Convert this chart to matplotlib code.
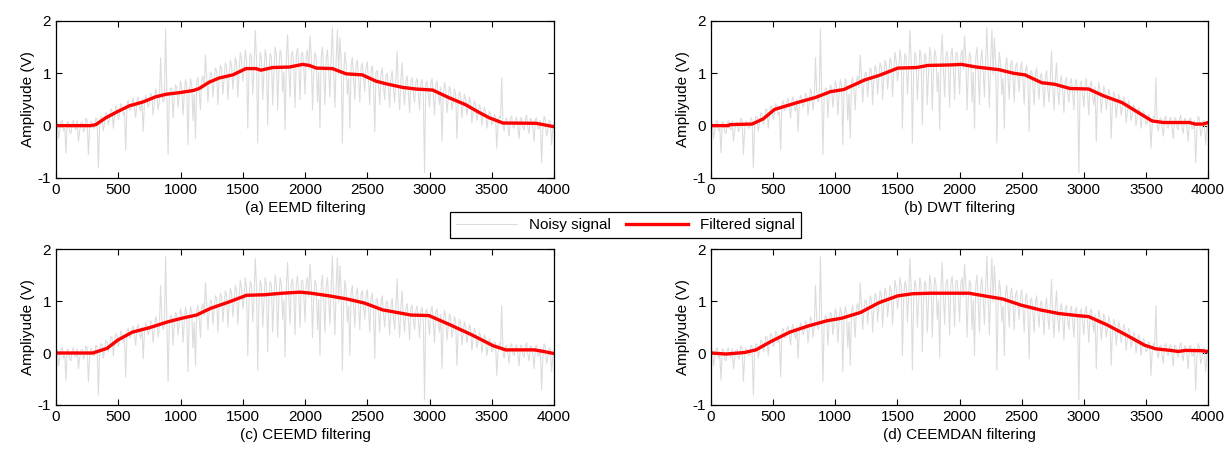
import numpy as np
from matplotlib import pyplot as plt

plt.rcParams['font.family'] = ['Liberation Sans', 'DejaVu Sans']
plt.rcParams['axes.unicode_minus'] = False

# noisy signal, read every 10 samples (same record in all four panels)
noisy_x = np.arange(0, 4001, 10)
noisy_y = [
    0.12, 0.05, -0.25, -0.08, 0.08, 0.10, -0.10, -0.05, -0.52, 0.08,
    0.06, -0.12, -0.15, 0.06, 0.10, -0.04, -0.08, 0.09, -0.30, -0.10,
    0.05, 0.07, -0.12, -0.06, 0.14, 0.10, -0.55, -0.08, 0.09, 0.06,
    -0.05, -0.04, 0.15, 0.12, -0.81, -0.02, 0.18, 0.16, -0.10, 0.05,
    0.25, 0.22, 0.02, 0.12, 0.32, 0.30, -0.05, 0.18, 0.38, 0.34,
    0.12, 0.22, 0.42, 0.38, 0.20, 0.26, -0.46, 0.42, 0.48, 0.30,
    0.30, 0.46, 0.52, 0.34, 0.15, 0.48, 0.55, 0.36, 0.28, 0.50,
    -0.11, 0.40, 0.58, 0.52, 0.35, 0.42, 0.62, 0.56, 0.20, 0.45,
    0.70, 0.62, 0.30, 0.48, 1.30, 0.66, 0.45, 0.52, 1.85, 0.68,
    -0.55, 0.55, 0.72, 0.70, 0.15, 0.56, 0.78, 0.72, 0.35, 0.58,
    0.85, 0.74, 0.20, 0.60, 0.88, 0.76, -0.36, 0.62, 0.90, 0.78,
    0.10, 0.60, -0.24, 0.82, 0.92, 0.65, 0.30, 0.88, 0.95, 0.72,
    1.35, 0.95, 0.45, 0.80, 1.02, 1.00, 0.55, 0.85, 1.10, 1.05,
    0.40, 0.88, 1.15, 1.08, 0.60, 0.90, 1.20, 1.12, 0.50, 0.92,
    1.25, 1.15, 0.70, 0.95, 1.30, 1.20, 0.55, 1.00, 1.40, 1.25,
    0.85, 1.05, 1.45, 1.28, -0.05, 1.02, 1.38, 1.30, 0.60, 1.05,
    1.82, 1.30, -0.33, 1.00, 1.40, 1.28, 0.50, 0.98, 1.45, 1.32,
    0.02, 1.02, 1.38, 1.30, 0.40, 1.00, 1.50, 1.33, 0.30, 1.05,
    1.45, 1.32, 0.65, 1.02, -0.08, 1.30, 1.74, 1.05, 0.55, 1.35,
    1.42, 1.08, 0.35, 1.34, 1.48, 1.10, 0.50, 1.38, 1.40, 1.12,
    0.60, 1.35, 1.45, 1.08, 1.71, 1.33, 0.30, 1.05, 1.40, 1.30,
    0.45, 1.02, -0.05, 1.30, 1.50, 1.00, 0.40, 1.28, 1.45, 1.02,
    0.55, 1.30, 1.87, 1.00, 0.35, 1.26, 1.83, 0.98, 1.68, 1.22,
    -0.33, 0.95, 1.40, 1.18, 0.60, 0.90, -0.05, 1.15, 1.30, 0.90,
    0.50, 1.15, 1.25, 0.90, 0.45, 1.12, 1.20, 0.88, 0.65, 1.10,
    1.22, 0.85, 0.40, 1.05, 1.15, 0.80, -0.11, 1.02, 1.05, 0.78,
    0.40, 0.98, 1.10, 0.75, 0.50, 0.95, 1.00, 0.72, 0.35, 0.92,
    1.05, 0.70, 0.45, 0.90, 1.42, 0.68, 0.30, 0.88, 1.20, 0.66,
    0.40, 0.85, 0.95, 0.64, 0.25, 0.84, 0.92, 0.62, 0.45, 0.82,
    0.90, 0.62, 0.30, 0.82, 0.88, 0.60, -0.90, 0.80, 0.85, 0.60,
    0.35, 0.80, 0.90, 0.60, 0.20, 0.78, 0.85, 0.58, 0.40, 0.74,
    -0.30, 0.54, 0.82, 0.70, 0.25, 0.50, 0.75, 0.66, 0.30, 0.46,
    0.70, 0.60, -0.24, 0.42, 0.65, 0.56, 0.15, 0.38, 0.60, 0.50,
    0.20, 0.34, 0.55, 0.46, 0.05, 0.28, 0.48, 0.40, 0.10, 0.22,
    0.40, 0.34, 0.00, 0.18, 0.35, 0.28, -0.05, 0.12, 0.28, 0.22,
    0.02, 0.06, 0.22, 0.18, -0.43, 0.02, 0.18, 0.14, 0.91, 0.00,
    -0.10, 0.12, 0.15, -0.04, -0.20, 0.14, 0.18, -0.02, -0.05, 0.12,
    0.16, -0.05, -0.25, 0.15, 0.14, -0.03, -0.08, 0.12, 0.20, -0.04,
    -0.15, 0.14, 0.12, -0.05, -0.30, 0.12, 0.15, -0.06, -0.05, 0.10,
    -0.71, -0.08, 0.18, 0.12, -0.20, -0.10, 0.10, 0.08, -0.36, -0.08,
    0.05,
]

# filtered signals (x, y)
eemd_x = [0, 280, 320, 400, 495, 590, 695, 800, 885, 990, 1100, 1150, 1230, 1310, 1420,
          1525, 1605, 1645, 1740, 1875, 1980, 2035, 2090, 2220, 2330, 2460, 2570, 2650,
          2785, 2890, 3025, 3160, 3290, 3400, 3480, 3590, 3855, 4000]
eemd_y = [0.0, 0.0, 0.02, 0.15, 0.27, 0.38, 0.45, 0.55, 0.60, 0.63, 0.67, 0.71, 0.83, 0.91, 0.97,
          1.09, 1.09, 1.06, 1.11, 1.12, 1.17, 1.15, 1.10, 1.09, 0.99, 0.97, 0.85, 0.80,
          0.73, 0.70, 0.68, 0.53, 0.40, 0.25, 0.15, 0.05, 0.045, -0.02]

dwt_x = [0, 140, 150, 330, 420, 511, 692, 842, 962, 1068, 1233, 1353, 1504, 1654, 1744,
         1925, 2015, 2135, 2315, 2436, 2526, 2661, 2767, 2887, 3038, 3158, 3308, 3459,
         3549, 3640, 3850, 3895, 3960, 4000]
dwt_y = [0.0, 0.0, 0.02, 0.03, 0.13, 0.31, 0.44, 0.54, 0.65, 0.69, 0.87, 0.96, 1.10, 1.11, 1.15,
         1.16, 1.17, 1.12, 1.07, 1.00, 0.97, 0.82, 0.79, 0.71, 0.70, 0.57, 0.44, 0.22,
         0.09, 0.06, 0.06, 0.03, 0.03, 0.06]

ceemd_x = [0, 295, 410, 497, 612, 755, 899, 1013, 1128, 1243, 1387, 1530, 1674, 1818, 1961,
           2047, 2191, 2334, 2478, 2622, 2737, 2851, 2995, 3167, 3339, 3511, 3612, 3842,
           3914, 4000]
ceemd_y = [0.0, 0.0, 0.09, 0.25, 0.40, 0.49, 0.60, 0.67, 0.73, 0.86, 0.98, 1.11, 1.12, 1.15, 1.17,
           1.15, 1.10, 1.04, 0.96, 0.83, 0.78, 0.73, 0.72, 0.54, 0.35, 0.14, 0.06, 0.06,
           0.03, -0.01]

ceemdan_x = [0, 120, 271, 361, 481, 632, 782, 932, 1053, 1203, 1353, 1504, 1624, 1774, 1925,
             2075, 2195, 2346, 2496, 2647, 2797, 2947, 3038, 3188, 3338, 3489, 3579, 3699,
             3759, 3820, 3940, 4000]
ceemdan_y = [0.0, -0.02, 0.01, 0.06, 0.22, 0.40, 0.52, 0.62, 0.67, 0.78, 0.97, 1.10, 1.14, 1.15, 1.15,
             1.15, 1.10, 1.04, 0.92, 0.83, 0.76, 0.72, 0.70, 0.54, 0.35, 0.15, 0.08, 0.05,
             0.03, 0.05, 0.045, 0.03]

panels = [
    ("(a) EEMD filtering", eemd_x, eemd_y),
    ("(b) DWT filtering", dwt_x, dwt_y),
    ("(c) CEEMD filtering", ceemd_x, ceemd_y),
    ("(d) CEEMDAN filtering", ceemdan_x, ceemdan_y),
]

fig = plt.figure(figsize=(12.26, 4.49), dpi=100)
boxes = [
    [0.0457, 0.6036, 0.4062, 0.3497],
    [0.5800, 0.6036, 0.4054, 0.3497],
    [0.0457, 0.0980, 0.4062, 0.3474],
    [0.5800, 0.0980, 0.4054, 0.3474],
]

for box, (title, fx, fy) in zip(boxes, panels):
    ax = fig.add_axes(box)
    l1, = ax.plot(noisy_x, noisy_y, color='#dcdcdc', lw=0.8, label='Noisy signal')
    l2, = ax.plot(fx, fy, color='red', lw=2.4, label='Filtered signal')
    ax.set_xlim(0, 4000)
    ax.set_ylim(-1, 2)
    ax.set_xticks(range(0, 4001, 500))
    ax.set_yticks([-1, 0, 1, 2])
    ax.tick_params(direction='in', top=True, right=True, length=4, width=0.8, labelsize=11)
    for s in ax.spines.values():
        s.set_linewidth(0.9)
    ax.set_xlabel(title, fontsize=11, labelpad=3)
    ax.set_ylabel('Ampliyude (V)', fontsize=11, labelpad=2)

leg = fig.legend([l1, l2], ['Noisy signal', 'Filtered signal'], loc='center',
                 bbox_to_anchor=(0.51, 0.499), ncol=2, fontsize=11, fancybox=False,
                 edgecolor='black', framealpha=1, handlelength=4, columnspacing=1.0,
                 borderpad=0.4)
leg.get_frame().set_linewidth(0.9)

fig.savefig('out.png', dpi=100)
